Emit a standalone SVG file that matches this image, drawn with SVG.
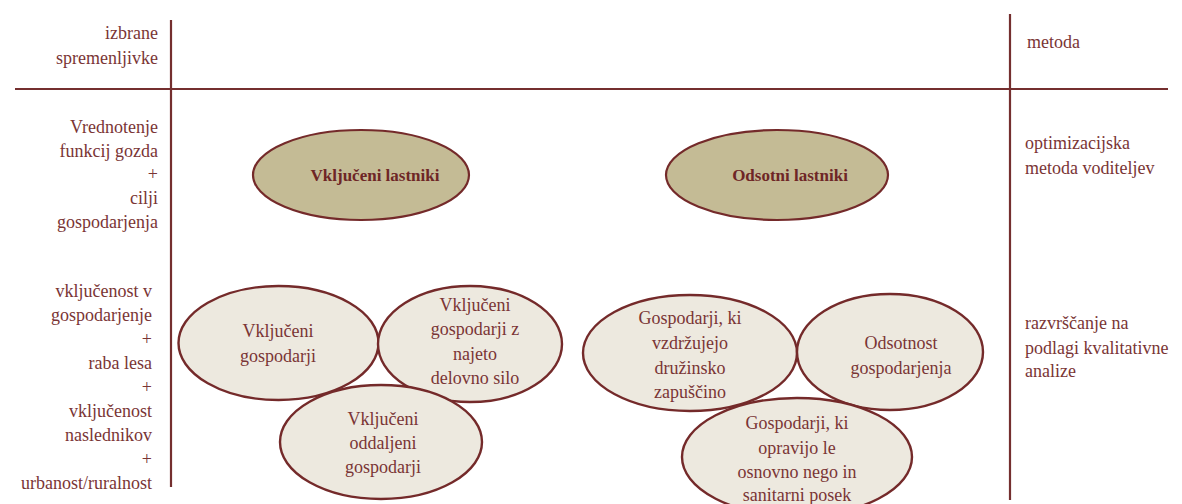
<svg xmlns="http://www.w3.org/2000/svg" width="1182" height="504" viewBox="0 0 1182 504">
<rect width="1182" height="504" fill="#ffffff"/>
<g id="grid" stroke="#742f2f" stroke-width="2.2" fill="none">
<line x1="171" y1="20" x2="171" y2="487"/>
<line x1="15" y1="89" x2="1168" y2="89"/>
<line x1="1010" y1="14" x2="1010" y2="500"/>
</g>
<g id="left-labels">
<text x="158" y="39" fill="#7a3535" text-anchor="end" font-family="Liberation Serif" font-size="18">izbrane</text>
<text x="158" y="64" fill="#7a3535" text-anchor="end" font-family="Liberation Serif" font-size="18">spremenljivke</text>
<text x="158" y="133" fill="#7a3535" text-anchor="end" font-family="Liberation Serif" font-size="18">Vrednotenje</text>
<text x="158" y="157" fill="#7a3535" text-anchor="end" font-family="Liberation Serif" font-size="18">funkcij  gozda</text>
<text x="158" y="180" fill="#7a3535" text-anchor="end" font-family="Liberation Serif" font-size="18">+</text>
<text x="158" y="204" fill="#7a3535" text-anchor="end" font-family="Liberation Serif" font-size="18">cilji</text>
<text x="158" y="228" fill="#7a3535" text-anchor="end" font-family="Liberation Serif" font-size="18">gospodarjenja</text>
<text x="152" y="297" fill="#7a3535" text-anchor="end" font-family="Liberation Serif" font-size="18">vključenost  v</text>
<text x="152" y="321" fill="#7a3535" text-anchor="end" font-family="Liberation Serif" font-size="18">gospodarjenje</text>
<text x="152" y="345" fill="#7a3535" text-anchor="end" font-family="Liberation Serif" font-size="18">+</text>
<text x="152" y="369" fill="#7a3535" text-anchor="end" font-family="Liberation Serif" font-size="18">raba lesa</text>
<text x="152" y="393" fill="#7a3535" text-anchor="end" font-family="Liberation Serif" font-size="18">+</text>
<text x="152" y="417" fill="#7a3535" text-anchor="end" font-family="Liberation Serif" font-size="18">vključenost</text>
<text x="152" y="441" fill="#7a3535" text-anchor="end" font-family="Liberation Serif" font-size="18">naslednikov</text>
<text x="152" y="465" fill="#7a3535" text-anchor="end" font-family="Liberation Serif" font-size="18">+</text>
<text x="152" y="489" fill="#7a3535" text-anchor="end" font-family="Liberation Serif" font-size="18">urbanost/ruralnost</text>
</g>
<g id="right-labels">
<text x="1027" y="48" fill="#7a3535" font-family="Liberation Serif" font-size="18">metoda</text>
<text x="1025" y="149" fill="#7a3535" font-family="Liberation Serif" font-size="18">optimizacijska</text>
<text x="1025" y="174" fill="#7a3535" font-family="Liberation Serif" font-size="18">metoda voditeljev</text>
<text x="1025" y="329" fill="#7a3535" font-family="Liberation Serif" font-size="18">razvrščanje  na</text>
<text x="1025" y="354" fill="#7a3535" font-family="Liberation Serif" font-size="18">podlagi  kvalitativne</text>
<text x="1025" y="377" fill="#7a3535" font-family="Liberation Serif" font-size="18">analize</text>
</g>
<g id="connectors"></g>
<g id="n-vkljuceni-lastniki">
<ellipse cx="361" cy="175" rx="108" ry="45" fill="#c4bb95" stroke="#742a2a" stroke-width="2.2"/>
<text x="375" y="181" fill="#6e2626" text-anchor="middle" font-family="Liberation Serif" font-size="17" font-weight="bold">Vključeni  lastniki</text>
</g>
<g id="n-odsotni-lastniki">
<ellipse cx="777" cy="175" rx="111" ry="45" fill="#c4bb95" stroke="#742a2a" stroke-width="2.2"/>
<text x="790" y="181" fill="#6e2626" text-anchor="middle" font-family="Liberation Serif" font-size="17" font-weight="bold">Odsotni lastniki</text>
</g>
<g id="n-vkljuceni-gospodarji">
<ellipse cx="278.5" cy="343" rx="100" ry="57" fill="#ede9df" stroke="#742a2a" stroke-width="2.4"/>
<text x="278" y="337" fill="#7a3535" text-anchor="middle" font-family="Liberation Serif" font-size="18">Vključeni</text>
<text x="278" y="362" fill="#7a3535" text-anchor="middle" font-family="Liberation Serif" font-size="18">gospodarji</text>
</g>
<g id="n-najeto">
<ellipse cx="470" cy="344" rx="92" ry="58" fill="#ede9df" stroke="#742a2a" stroke-width="2.4"/>
<text x="475" y="311" fill="#7a3535" text-anchor="middle" font-family="Liberation Serif" font-size="18">Vključeni</text>
<text x="475" y="335" fill="#7a3535" text-anchor="middle" font-family="Liberation Serif" font-size="18">gospodarji  z</text>
<text x="475" y="360" fill="#7a3535" text-anchor="middle" font-family="Liberation Serif" font-size="18">najeto</text>
<text x="475" y="384" fill="#7a3535" text-anchor="middle" font-family="Liberation Serif" font-size="18">delovno  silo</text>
</g>
<g id="n-oddaljeni">
<ellipse cx="381" cy="442" rx="101" ry="57" fill="#ede9df" stroke="#742a2a" stroke-width="2.4"/>
<text x="383" y="425" fill="#7a3535" text-anchor="middle" font-family="Liberation Serif" font-size="18">Vključeni</text>
<text x="383" y="449" fill="#7a3535" text-anchor="middle" font-family="Liberation Serif" font-size="18">oddaljeni</text>
<text x="383" y="473" fill="#7a3535" text-anchor="middle" font-family="Liberation Serif" font-size="18">gospodarji</text>
</g>
<g id="n-druzinska">
<ellipse cx="690" cy="353" rx="107" ry="58" fill="#ede9df" stroke="#742a2a" stroke-width="2.4"/>
<text x="690" y="324" fill="#7a3535" text-anchor="middle" font-family="Liberation Serif" font-size="18">Gospodarji,  ki</text>
<text x="690" y="349" fill="#7a3535" text-anchor="middle" font-family="Liberation Serif" font-size="18">vzdržujejo</text>
<text x="690" y="374" fill="#7a3535" text-anchor="middle" font-family="Liberation Serif" font-size="18">družinsko</text>
<text x="690" y="398" fill="#7a3535" text-anchor="middle" font-family="Liberation Serif" font-size="18">zapuščino</text>
</g>
<g id="n-odsotnost">
<ellipse cx="890" cy="352" rx="93" ry="58" fill="#ede9df" stroke="#742a2a" stroke-width="2.4"/>
<text x="901" y="349" fill="#7a3535" text-anchor="middle" font-family="Liberation Serif" font-size="18">Odsotnost</text>
<text x="901" y="374" fill="#7a3535" text-anchor="middle" font-family="Liberation Serif" font-size="18">gospodarjenja</text>
</g>
<g id="n-osnovno">
<ellipse cx="797" cy="457" rx="115" ry="59" fill="#ede9df" stroke="#742a2a" stroke-width="2.4"/>
<text x="797" y="429" fill="#7a3535" text-anchor="middle" font-family="Liberation Serif" font-size="18">Gospodarji,  ki</text>
<text x="797" y="454" fill="#7a3535" text-anchor="middle" font-family="Liberation Serif" font-size="18">opravijo  le</text>
<text x="797" y="478" fill="#7a3535" text-anchor="middle" font-family="Liberation Serif" font-size="18">osnovno  nego  in</text>
<text x="797" y="501" fill="#7a3535" text-anchor="middle" font-family="Liberation Serif" font-size="18">sanitarni  posek</text>
</g>
</svg>
